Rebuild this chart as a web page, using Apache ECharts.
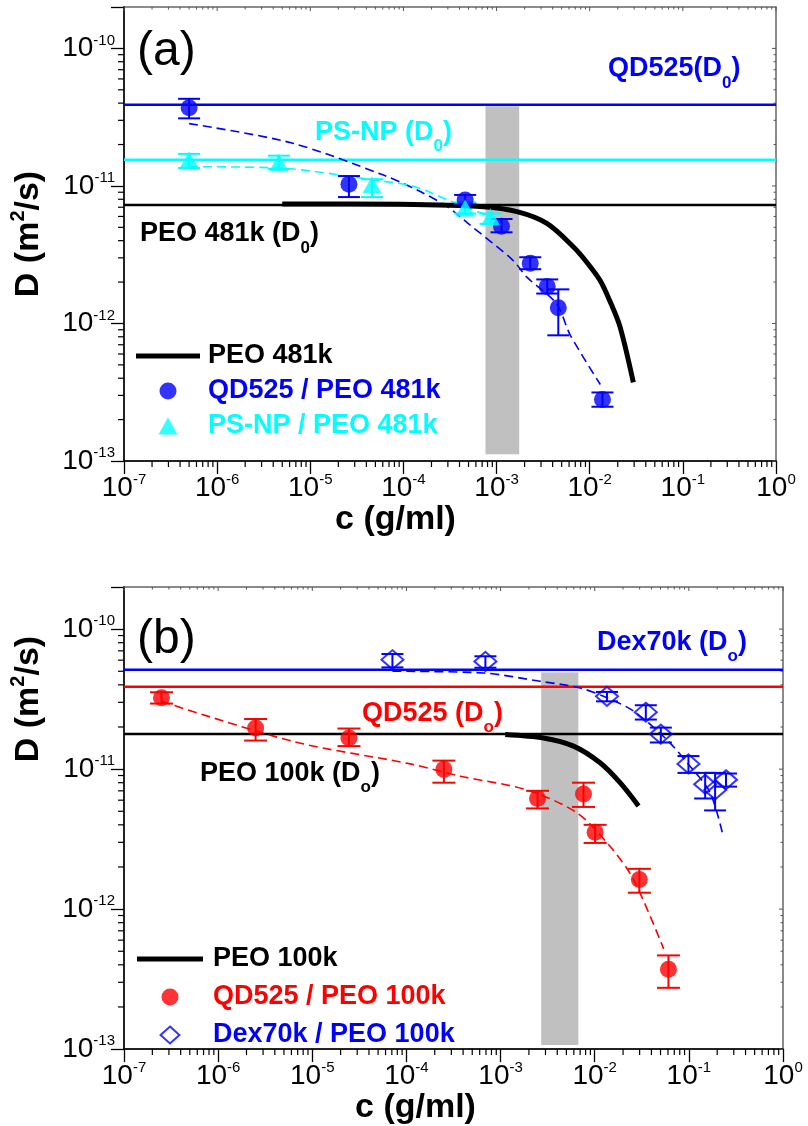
<!DOCTYPE html>
<html>
<head>
<meta charset="utf-8">
<script src="https://cdn.jsdelivr.net/npm/echarts@6/dist/echarts.min.js"></script>
<style>
  html, body { margin: 0; padding: 0; background: #fff; }
  #chart { width: 808px; height: 1126px; }
</style>
</head>
<body>
<div id="chart"></div>
<script>
// ---------- Panel (a): PEO 481k ----------
const qdA_c  = [5e-7, 2.6e-5, 4.6e-4, 1.13e-3, 2.3e-3, 3.5e-3, 4.6e-3, 1.37e-2];
const qdA_D  = [3.7e-11, 1.03e-11, 7.9e-12, 5.1e-12, 2.74e-12, 1.86e-12, 1.30e-12, 2.8e-13];
const qdA_lo = [3.1e-11, 8.3e-12, 7.45e-12, 4.6e-12, 2.48e-12, 1.65e-12, 8.2e-13, 2.48e-13];
const qdA_hi = [4.3e-11, 1.18e-11, 8.6e-12, 5.75e-12, 3.03e-12, 2.09e-12, 1.77e-12, 3.15e-13];

const psA_c  = [5e-7, 4.6e-6, 4.6e-5, 4.6e-4, 8.6e-4];
const psA_D  = [1.55e-11, 1.48e-11, 1.02e-11, 6.9e-12, 5.97e-12];
const psA_lo = [1.35e-11, 1.33e-11, 8.3e-12, 6.3e-12, 5.3e-12];
const psA_hi = [1.71e-11, 1.66e-11, 1.12e-11, 7.6e-12, 6.3e-12];

const qdA_fit = [[5e-7, 2.84e-11], [6.2e-6, 2.06e-11], [6.1e-5, 1.2e-11], [1.4e-4, 9.35e-12],
                 [2.95e-4, 7.07e-12], [5.2e-4, 5.19e-12], [1.5e-3, 2.88e-12], [2.1e-3, 2.18e-12],
                 [4.4e-3, 1.39e-12], [6.2e-3, 8.2e-13], [1.3e-2, 3.6e-13]];
const psA_fit = [[5e-7, 1.38e-11], [4.6e-6, 1.35e-11], [5e-5, 1.1e-11], [1.3e-4, 9.9e-12],
                 [3e-4, 7.9e-12], [8.6e-4, 5.97e-12]];
const peoA_curve = [[5e-6, 7.4e-12], [9.3e-5, 7.35e-12], [7.2e-4, 7.07e-12], [1.66e-3, 6.5e-12],
                    [3.47e-3, 5.34e-12], [6.7e-3, 3.6e-12], [9.3e-3, 2.79e-12], [1.29e-2, 2.06e-12],
                    [1.65e-2, 1.45e-12], [2.12e-2, 9.4e-13], [2.94e-2, 3.73e-13]];
const d0A = { qd: 3.9e-11, ps: 1.55e-11, peo: 7.26e-12 };
const bandA = { c: [7.6e-4, 1.75e-3], D: [1.12e-13, 3.8e-11] };

// ---------- Panel (b): PEO 100k ----------
const qdB_c  = [2.5e-7, 2.5e-6, 2.45e-5, 2.5e-4, 2.47e-3, 7.6e-3, 1.01e-2, 2.98e-2, 6.07e-2];
const qdB_D  = [3.23e-11, 1.97e-11, 1.67e-11, 9.96e-12, 6.16e-12, 6.64e-12, 3.54e-12, 1.63e-12, 3.72e-13];
const qdB_lo = [2.94e-11, 1.6e-11, 1.46e-11, 8.0e-12, 5.24e-12, 5.37e-12, 2.97e-12, 1.31e-12, 2.74e-13];
const qdB_hi = [3.54e-11, 2.28e-11, 1.95e-11, 1.15e-11, 7.0e-12, 8.0e-12, 4.0e-12, 1.94e-12, 4.67e-13];

const dexB_c  = [7.1e-5, 6.9e-4, 1.35e-2, 3.49e-2, 5.04e-2, 9.9e-2, 0.149, 0.19, 0.248];
const dexB_D  = [6.05e-11, 5.88e-11, 3.31e-11, 2.55e-11, 1.78e-11, 1.09e-11, 7.8e-12, 7.1e-12, 8.4e-12];
const dexB_lo = [5.33e-11, 5.3e-11, 3.05e-11, 2.26e-11, 1.55e-11, 9.4e-12, 6.17e-12, 5.07e-12, 7.5e-12];
const dexB_hi = [6.64e-11, 6.4e-11, 3.56e-11, 2.86e-11, 1.98e-11, 1.24e-11, 9.4e-12, 9.4e-12, 9.3e-12];

const qdB_fit = [[2.5e-7, 3.05e-11], [6.4e-6, 1.57e-11], [1.1e-4, 1.09e-11], [3.75e-4, 8.9e-12],
                 [1.9e-3, 7.1e-12], [6.5e-3, 4.86e-12], [1.46e-2, 2.8e-12], [2.58e-2, 1.63e-12],
                 [5.4e-2, 5.2e-13]];
const dexB_fit = [[7.1e-5, 5.0e-11], [6.6e-4, 4.86e-11], [2.64e-3, 4.24e-11], [7.0e-3, 3.8e-11],
                  [1.35e-2, 3.23e-11], [2.58e-2, 2.6e-11], [5.8e-2, 1.63e-11], [0.103, 1.05e-11],
                  [0.168, 6.8e-12], [0.232, 3.3e-12]];
const peoB_curve = [[1.12e-3, 1.77e-11], [2.86e-3, 1.67e-11], [5.96e-3, 1.46e-11], [1.14e-2, 1.11e-11],
                    [1.86e-2, 8.0e-12], [2.92e-2, 5.46e-12]];
const d0B = { dex: 5.13e-11, qd: 3.88e-11, peo: 1.78e-11 };
const bandB = { c: [2.7e-3, 6.7e-3], D: [1.07e-13, 4.9e-11] };

// ---------- Axis ranges and ticks ----------
const X_MIN = 1e-7, X_MAX = 1, Y_MIN = 1e-13, Y_MAX = 2e-10;
const xDecades = [-7, -6, -5, -4, -3, -2, -1, 0];
const yDecades = [-13, -12, -11, -10];
const minorSteps = [2, 3, 4, 5, 6, 7, 8, 9];

const FONT = "'Liberation Sans', Arial, Helvetica, sans-serif";
const BLUE = '#0000ff', CYAN = '#00ffff', RED = '#ff0000', GREY = '#c0c0c0', BLACK = '#000000';

function tickValues(decades, max) {
  const out = [];
  decades.forEach(e => {
    const base = Math.pow(10, e);
    out.push([base, 1]);
    minorSteps.forEach(m => { const v = m * base; if (v < max * 0.999) out.push([v, 0]); });
  });
  return out;
}
const xTicks = tickValues(xDecades, X_MAX);
const yTicks = tickValues(yDecades, Y_MAX);

function powerLabel(v) {
  const e = Math.log10(v), r = Math.round(e);
  if (Math.abs(e - r) > 1e-6) return '';
  return '10{sup|' + r + '}';
}

const labelStyle = {
  formatter: powerLabel, fontSize: 28, fontFamily: FONT, color: BLACK, lineHeight: 28,
  rich: { sup: { fontSize: 15, fontFamily: FONT, color: BLACK, verticalAlign: 'top', height: 12, lineHeight: 12 } }
};

function xAxis(gi, nameGap, shift) {
  return {
    type: 'log', logBase: 10, gridIndex: gi, min: X_MIN, max: X_MAX, splitNumber: 7,
    axisLine: { show: true, onZero: false, lineStyle: { color: BLACK, width: 1.5 } },
    axisTick: { show: true, inside: false, length: 13, lineStyle: { color: BLACK, width: 1.3 } },
    splitLine: { show: false },
    axisLabel: Object.assign({ margin: 13 }, labelStyle),
    name: 'c (g/ml)', nameLocation: 'middle', nameGap: nameGap,
    nameTextStyle: { fontSize: 34, fontWeight: 'bold', fontFamily: FONT, color: BLACK, lineHeight: 34,
                     padding: [0, shift, 0, 0] }
  };
}
function yAxis(gi, nameGap, lift) {
  return {
    type: 'log', logBase: 10, gridIndex: gi, min: Y_MIN, max: Y_MAX, splitNumber: 3,
    axisLine: { show: true, onZero: false, lineStyle: { color: BLACK, width: 1.5 } },
    axisTick: { show: true, inside: false, length: 13, lineStyle: { color: BLACK, width: 1.3 } },
    splitLine: { show: false },
    axisLabel: Object.assign({ margin: 9 }, labelStyle),
    name: 'D (m{sup|2}/s)', nameLocation: 'middle', nameGap: nameGap,
    nameTextStyle: { fontSize: 34, fontWeight: 'bold', fontFamily: FONT, color: BLACK, lineHeight: 36,
                     padding: [0, 0, 0, lift],
                     rich: { sup: { fontSize: 20, fontWeight: 'bold', fontFamily: FONT, color: BLACK,
                                    verticalAlign: 'top', height: 14, lineHeight: 14 } } }
  };
}

// minor ticks outside on bottom/left, small inward ticks on top/right
function tickSeries(gi, ticks, isX) {
  return {
    type: 'custom', xAxisIndex: gi, yAxisIndex: gi, silent: true, clip: false, z: 1,
    data: ticks.map(t => isX ? [t[0], Y_MIN, t[1]] : [X_MIN, t[0], t[1]]),
    renderItem(params, api) {
      const cs = params.coordSys;
      const p = api.coord([api.value(0), api.value(1)]);
      const major = api.value(2) === 1;
      const st = { stroke: BLACK, lineWidth: 1.2 };
      const inner = { stroke: '#555', lineWidth: 1 };
      const kids = [];
      if (isX) {
        if (!major) kids.push({ type: 'line', shape: { x1: p[0], y1: cs.y + cs.height, x2: p[0], y2: cs.y + cs.height + 6 }, style: st });
        kids.push({ type: 'line', shape: { x1: p[0], y1: cs.y, x2: p[0], y2: cs.y + (major ? 4 : 2.5) }, style: inner });
      } else {
        if (!major) kids.push({ type: 'line', shape: { x1: cs.x, y1: p[1], x2: cs.x - 6, y2: p[1] }, style: st });
        kids.push({ type: 'line', shape: { x1: cs.x + cs.width, y1: p[1], x2: cs.x + cs.width - (major ? 4 : 2.5), y2: p[1] }, style: inner });
      }
      return { type: 'group', children: kids };
    }
  };
}

function errorBars(gi, xs, lo, hi, color, cap) {
  return {
    type: 'custom', xAxisIndex: gi, yAxisIndex: gi, silent: true, clip: false, z: 5,
    data: xs.map((x, i) => [x, lo[i], hi[i]]),
    encode: { x: 0, y: [1, 2] },
    renderItem(params, api) {
      const x = api.value(0);
      const a = api.coord([x, api.value(1)]), b = api.coord([x, api.value(2)]);
      const h = cap / 2, style = { stroke: color, lineWidth: 2 };
      return { type: 'group', children: [
        { type: 'line', shape: { x1: a[0], y1: a[1], x2: b[0], y2: b[1] }, style },
        { type: 'line', shape: { x1: a[0] - h, y1: a[1], x2: a[0] + h, y2: a[1] }, style },
        { type: 'line', shape: { x1: b[0] - h, y1: b[1], x2: b[0] + h, y2: b[1] }, style }
      ] };
    }
  };
}

function levelLine(gi, value, color, band) {
  const s = {
    type: 'line', xAxisIndex: gi, yAxisIndex: gi, silent: true, symbol: 'none', z: 2,
    data: [[X_MIN, value], [X_MAX, value]],
    lineStyle: { color, width: 2.5 }
  };
  if (band) {
    s.markArea = { silent: true, itemStyle: { color: GREY, opacity: 1 },
      data: [[{ xAxis: band.c[0], yAxis: band.D[0] }, { xAxis: band.c[1], yAxis: band.D[1] }]] };
  }
  return s;
}

function fitLine(gi, pts, color) {
  return { type: 'line', xAxisIndex: gi, yAxisIndex: gi, silent: true, symbol: 'none', smooth: 0.3, z: 3,
           data: pts, lineStyle: { color, width: 1.6, type: [9, 5] } };
}
function curve(gi, name, pts) {
  return { type: 'line', name, xAxisIndex: gi, yAxisIndex: gi, silent: true, symbol: 'none', smooth: 0.3, z: 4,
           data: pts, color: BLACK, lineStyle: { color: BLACK, width: 5 } };
}
function markers(gi, name, xs, ys, symbol, size, itemStyle) {
  return { type: 'scatter', name, xAxisIndex: gi, yAxisIndex: gi, silent: true, z: 6,
           symbol, symbolSize: size, data: xs.map((x, i) => [x, ys[i]]), itemStyle };
}

function note(text, x, baseline, color) {
  return {
    type: 'text', x, y: baseline - 9.4, silent: true, z: 20,
    style: {
      text, fill: color, fontSize: 27, fontWeight: 'bold', fontFamily: FONT,
      align: 'left', verticalAlign: 'middle', lineHeight: 30,
      rich: { sub: { fontSize: 17, fontWeight: 'bold', fontFamily: FONT, fill: color,
                     verticalAlign: 'bottom', height: 2, lineHeight: 2 } }
    }
  };
}
function panelTag(text, x, top) {
  return { type: 'text', x, y: top, silent: true, z: 20,
           style: { text, fill: BLACK, fontSize: 48, fontFamily: FONT, align: 'left', verticalAlign: 'top', lineHeight: 48 } };
}

function legendFor(top, left, itemWidth, gap, textPad, items) {
  return {
    orient: 'vertical', left, top, padding: 0, itemWidth, itemHeight: 17, itemGap: gap,
    selectedMode: false, symbolKeepAspect: true,
    textStyle: { fontSize: 27, fontWeight: 'bold', fontFamily: FONT, lineHeight: 30, padding: [0, 0, 0, textPad] },
    data: items.map(it => ({ name: it[0], icon: it[1], textStyle: { color: it[2] } }))
  };
}

const lineIcon = 'path://M0,0H64V5H0Z';
const triangleIcon = 'path://M9.5,0L19,17H0Z';
const diamondIcon = 'path://M10,0L20,9L10,18L0,9Z';
const openDiamond = { color: 'rgba(255,255,255,0)', borderColor: BLUE, borderWidth: 2 };

const option = {
  animation: false,
  backgroundColor: '#ffffff',
  grid: [
    { left: 123, top: 7, right: 32, bottom: 665, show: true, borderColor: '#666', borderWidth: 1.5 },
    { left: 123, top: 587, right: 25, bottom: 75, show: true, borderColor: '#666', borderWidth: 1.5 }
  ],
  xAxis: [xAxis(0, 40, 109), xAxis(1, 38, 76)],
  yAxis: [yAxis(0, 77, 0), yAxis(1, 77, 238)],
  legend: [
    legendFor(341, 136, 64, 5, 3, [
      ['PEO 481k', lineIcon, BLACK],
      ['QD525 / PEO 481k', 'circle', BLUE],
      ['PS-NP / PEO 481k', triangleIcon, CYAN]
    ]),
    legendFor(944, 137, 66, 8, 5, [
      ['PEO 100k', lineIcon, BLACK],
      ['QD525 / PEO 100k', 'circle', RED],
      ['Dex70k / PEO 100k', diamondIcon, BLUE]
    ])
  ],
  graphic: [
    panelTag('(a)', 137, 28),
    panelTag('(b)', 137, 616),
    note('QD525(D{sub|0})', 608, 78.3, BLUE),
    note('PS-NP (D{sub|0})', 315, 141.7, CYAN),
    note('PEO 481k (D{sub|0})', 140, 243.3, BLACK),
    note('Dex70k (D{sub|o})', 597, 651.7, BLUE),
    note('QD525 (D{sub|o})', 362, 723, RED),
    note('PEO 100k (D{sub|o})', 200, 782.7, BLACK)
  ],
  series: [
    // panel (a)
    tickSeries(0, xTicks, true), tickSeries(0, yTicks, false),
    levelLine(0, d0A.qd, BLUE, bandA), levelLine(0, d0A.ps, CYAN), levelLine(0, d0A.peo, BLACK),
    fitLine(0, qdA_fit, BLUE), fitLine(0, psA_fit, CYAN),
    curve(0, 'PEO 481k', peoA_curve),
    errorBars(0, qdA_c, qdA_lo, qdA_hi, BLUE, 22),
    errorBars(0, psA_c, psA_lo, psA_hi, CYAN, 22),
    markers(0, 'QD525 / PEO 481k', qdA_c, qdA_D, 'circle', 17, { color: BLUE }),
    markers(0, 'PS-NP / PEO 481k', psA_c, psA_D, 'triangle', [19, 17], { color: CYAN }),
    // panel (b)
    tickSeries(1, xTicks, true), tickSeries(1, yTicks, false),
    levelLine(1, d0B.dex, BLUE, bandB), levelLine(1, d0B.qd, RED), levelLine(1, d0B.peo, BLACK),
    fitLine(1, qdB_fit, RED), fitLine(1, dexB_fit, BLUE),
    curve(1, 'PEO 100k', peoB_curve),
    errorBars(1, qdB_c, qdB_lo, qdB_hi, RED, 23),
    errorBars(1, dexB_c, dexB_lo, dexB_hi, BLUE, 22),
    markers(1, 'QD525 / PEO 100k', qdB_c, qdB_D, 'circle', 17, { color: RED }),
    markers(1, 'Dex70k / PEO 100k', dexB_c, dexB_D, 'diamond', [22, 19], openDiamond)
  ]
};

const chart = echarts.init(document.getElementById('chart'), null, { renderer: 'canvas' });
chart.setOption(option);
</script>
</body>
</html>
